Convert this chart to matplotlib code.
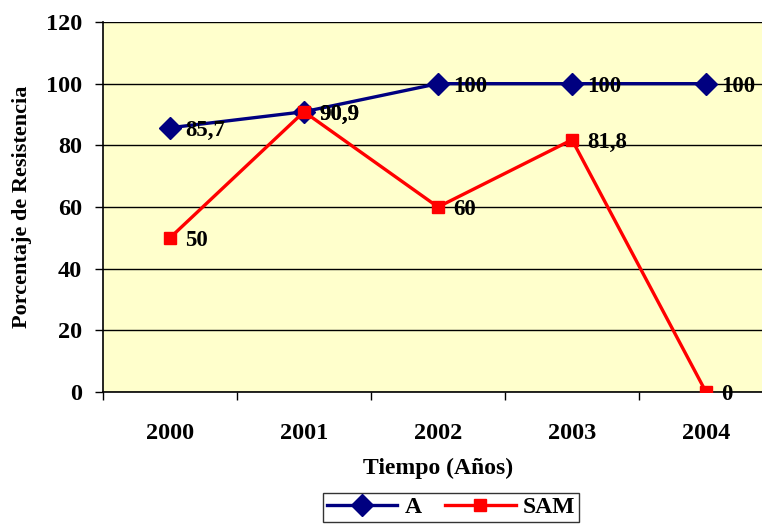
import numpy as np
import matplotlib
matplotlib.use("Agg")
from matplotlib import pyplot as plt
from matplotlib.ticker import FixedLocator

years = ["2000", "2001", "2002", "2003", "2004"]
serie_a = [85.7, 90.9, 100, 100, 100]
serie_sam = [50, 90.9, 60, 81.8, 0]
etiq_a = ["85,7", "90,9", "100", "100", "100"]
etiq_sam = ["50", "90,9", "60", "81,8", "0"]

plt.rcParams["font.family"] = ["Liberation Serif", "DejaVu Serif"]
plt.rcParams["font.weight"] = "bold"

fig = plt.figure(figsize=(7.62, 5.26), dpi=100)
ax = fig.add_axes([103 / 762, 134 / 526, 670 / 762, 370 / 526])
ax.set_facecolor("#FFFFCC")

x = np.arange(len(years))
ax.plot(x, serie_a, color="#000080", lw=2.4, marker="D", ms=11,
        label="A", zorder=3)
ax.plot(x, serie_sam, color="#FF0000", lw=2.4, marker="s", ms=8,
        label="SAM", zorder=4)

# etiquetas de valores a la derecha de cada punto
for xi, v, t in zip(x, serie_sam, etiq_sam):
    ax.annotate(t, (xi, v), xytext=(11, -2), textcoords="offset points",
                va="center", ha="left", fontsize=16.5, fontweight="bold",
                zorder=5)
for xi, v, t in zip(x, serie_a, etiq_a):
    ax.annotate(t, (xi, v), xytext=(11, -2), textcoords="offset points",
                va="center", ha="left", fontsize=16.5, fontweight="bold",
                zorder=5)

ax.set_xlim(-0.5, len(years) - 0.5)
ax.set_ylim(0, 120)
ax.set_yticks(np.arange(0, 121, 20))
ax.yaxis.grid(True, color="black", lw=1)
ax.set_axisbelow(True)

ax.set_xticks(x)
ax.set_xticklabels(years)
ax.xaxis.set_minor_locator(FixedLocator(np.arange(-0.5, len(years), 1)))
ax.tick_params(axis="x", which="major", length=0, pad=22, labelsize=17.5)
ax.tick_params(axis="x", which="minor", length=6, width=1, direction="out")
ax.tick_params(axis="y", length=6, width=1, pad=9, labelsize=17.5)

for s in ["top", "right"]:
    ax.spines[s].set_visible(False)
ax.spines["left"].set_linewidth(1.2)
ax.spines["bottom"].set_linewidth(1.2)

ax.set_xlabel("Tiempo (Años)", fontsize=17, fontweight="bold", labelpad=10)
ax.set_ylabel("Porcentaje de Resistencia", fontsize=16, fontweight="bold",
              labelpad=10)

leg = ax.legend(loc="upper left", bbox_to_anchor=(323 / 762, 33 / 526),
                bbox_transform=fig.transFigure, ncol=2, frameon=True,
                fancybox=False, edgecolor="black", fontsize=17,
                handlelength=3.0, handletextpad=0.3, columnspacing=1.0,
                borderpad=0.15, borderaxespad=0)
leg.get_frame().set_linewidth(1)

fig.savefig("out.png", dpi=100)
